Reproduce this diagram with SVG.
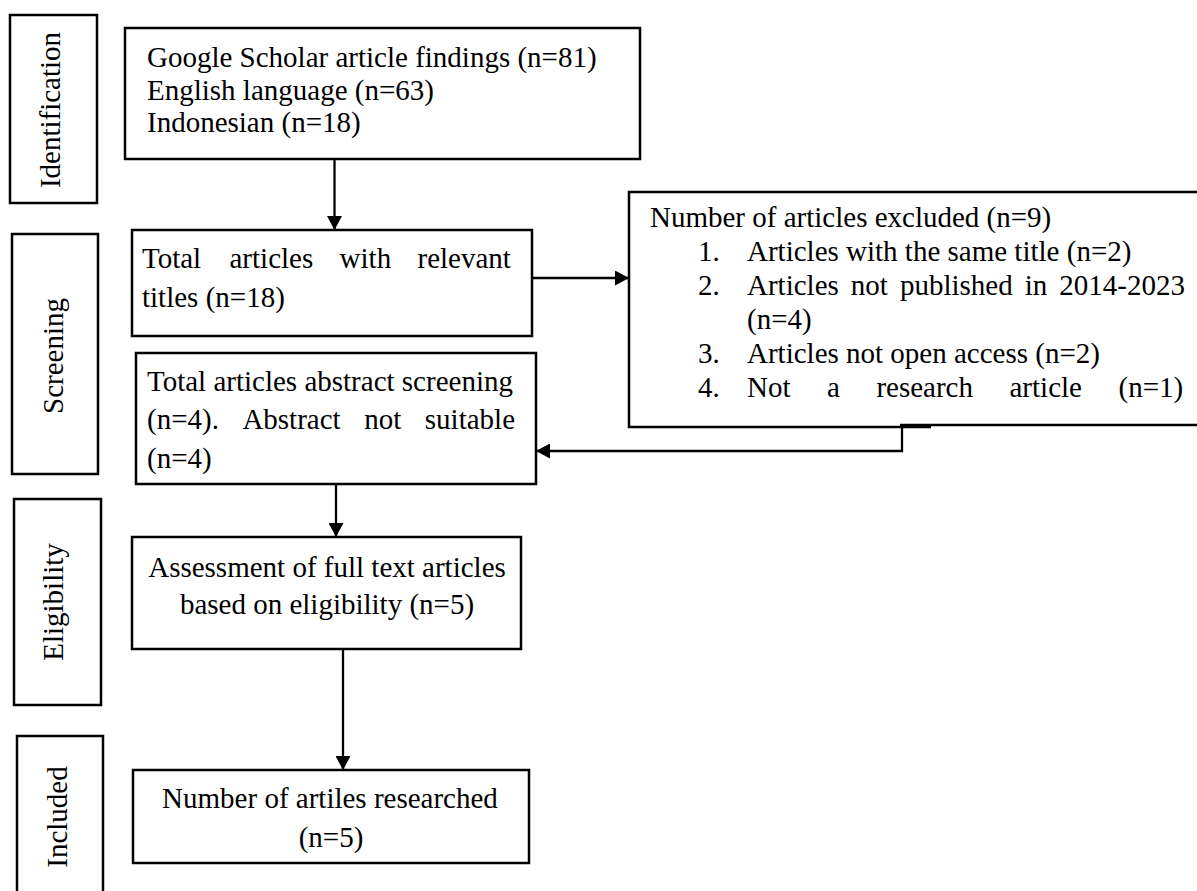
<svg xmlns="http://www.w3.org/2000/svg" width="1197" height="891" viewBox="0 0 1197 891">
<style>
.box{fill:none;stroke:#000;stroke-width:2.5}
.t{font-family:"Liberation Serif","Times New Roman",serif;font-size:29px;fill:#000}
.c{fill:none;stroke:#000;stroke-width:2.3}
</style>
<defs>
<marker id="arr" markerUnits="userSpaceOnUse" markerWidth="14" markerHeight="15" refX="14" refY="7.5" orient="auto">
<path d="M0,0 L14,7.5 L0,15 z" fill="#000"/>
</marker>
</defs>
<rect width="1197" height="891" fill="#fff"/>

<g id="stage-identification">
<rect class="box" x="10" y="15" width="87" height="188"/>
<text class="t" text-anchor="middle" transform="translate(60,110) rotate(-90)">Identification</text>
</g>
<g id="stage-screening">
<rect class="box" x="12" y="234" width="86" height="240"/>
<text class="t" text-anchor="middle" transform="translate(63,356) rotate(-90)">Screening</text>
</g>
<g id="stage-eligibility">
<rect class="box" x="14" y="499" width="87" height="206"/>
<text class="t" text-anchor="middle" transform="translate(63,602) rotate(-90)">Eligibility</text>
</g>
<g id="stage-included">
<path class="box" d="M17,900 V736 H103 V900"/>
<text class="t" text-anchor="middle" transform="translate(67,817) rotate(-90)">Included</text>
</g>

<g id="node-google">
<rect class="box" x="125" y="28" width="515" height="131"/>
<text class="t" x="147" y="67">Google Scholar article findings (n=81)</text>
<text class="t" x="147" y="99.5">English language (n=63)</text>
<text class="t" x="147" y="132">Indonesian (n=18)</text>
</g>

<g id="node-relevant">
<rect class="box" x="132" y="230" width="400" height="106"/>
<text class="t" y="268"><tspan x="142">Total</tspan><tspan x="229.5">articles</tspan><tspan x="339.6">with</tspan><tspan x="417.5">relevant</tspan></text>
<text class="t" x="142" y="307">titles (n=18)</text>
</g>

<g id="node-excluded">
<path class="box" d="M1197,192 H629 V427 H931"/>
<path class="box" d="M900,425 H1197"/>
<text class="t" x="650" y="227">Number of articles excluded (n=9)</text>
<text class="t" x="698" y="261">1.</text>
<text class="t" x="747" y="261">Articles with the same title (n=2)</text>
<text class="t" x="698" y="295">2.</text>
<text class="t" y="295"><tspan x="747">Articles</tspan><tspan x="850.8">not</tspan><tspan x="899.9">published</tspan><tspan x="1024.7">in</tspan><tspan x="1059.3">2014-2023</tspan></text>
<text class="t" x="747" y="329">(n=4)</text>
<text class="t" x="698" y="363">3.</text>
<text class="t" x="747" y="363">Articles not open access (n=2)</text>
<text class="t" x="698" y="397">4.</text>
<text class="t" y="397"><tspan x="747">Not</tspan><tspan x="827">a</tspan><tspan x="876.4">research</tspan><tspan x="1009.5">article</tspan><tspan x="1118.5">(n=1)</tspan></text>
</g>

<g id="node-abstract">
<rect class="box" x="136" y="353" width="400" height="131"/>
<text class="t" x="147" y="391">Total articles abstract screening</text>
<text class="t" y="429"><tspan x="147">(n=4).</tspan><tspan x="242.4">Abstract</tspan><tspan x="364.2">not</tspan><tspan x="424.8">suitable</tspan></text>
<text class="t" x="147" y="468">(n=4)</text>
</g>

<g id="node-assessment">
<rect class="box" x="132" y="537" width="389" height="112"/>
<text class="t" text-anchor="middle" x="327" y="577">Assessment of full text articles</text>
<text class="t" text-anchor="middle" x="327" y="614">based on eligibility (n=5)</text>
</g>

<g id="node-researched">
<rect class="box" x="133" y="770" width="396" height="93"/>
<text class="t" text-anchor="middle" x="330" y="808">Number of artiles researched</text>
<text class="t" text-anchor="middle" x="331" y="847">(n=5)</text>
</g>

<g id="connectors">
<line class="c" x1="334.5" y1="159" x2="334.5" y2="230" marker-end="url(#arr)"/>
<line class="c" x1="532" y1="278" x2="629" y2="278" marker-end="url(#arr)"/>
<polyline class="c" points="902,427 902,451 536,451" marker-end="url(#arr)"/>
<line class="c" x1="336" y1="484" x2="336" y2="537" marker-end="url(#arr)"/>
<line class="c" x1="343" y1="649" x2="343" y2="770" marker-end="url(#arr)"/>
</g>
</svg>
